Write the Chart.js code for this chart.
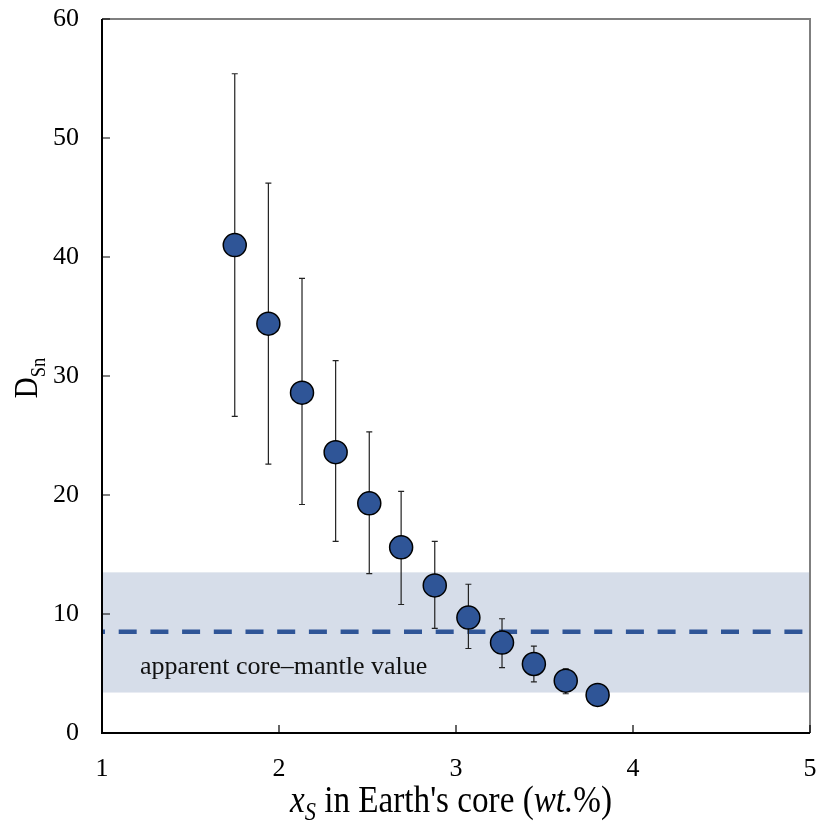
<!DOCTYPE html>
<html>
<head>
<meta charset="utf-8">
<script src="https://cdn.jsdelivr.net/npm/chart.js@4"></script>
<style>
  body { margin: 0; background: #fff; }
</style>
</head>
<body>
<canvas id="chart" width="816" height="826"></canvas>
<script>
// S content of the core (wt.%) and D_Sn with error bar ends
let sulfur = [1.75, 1.94, 2.13, 2.32, 2.51, 2.69, 2.88, 3.07, 3.26, 3.44, 3.62, 3.80];
let dSn = [41.0, 34.4, 28.6, 23.6, 19.3, 15.6, 12.4, 9.7, 7.6, 5.8, 4.4, 3.2];
let dSnHigh = [55.4, 46.2, 38.2, 31.3, 25.3, 20.3, 16.1, 12.5, 9.6, 7.3, 5.4, 3.6];
let dSnLow = [26.6, 22.6, 19.2, 16.1, 13.4, 10.8, 8.8, 7.1, 5.5, 4.3, 3.3, 2.8];

// apparent core-mantle value and its range
let apparentValue = 8.5;
let apparentRange = [3.4, 13.5];

let xTicks = [1, 2, 3, 4, 5];
let yTicks = [0, 10, 20, 30, 40, 50, 60];

const serif = '"Liberation Serif", "Times New Roman", serif';
const blue = '#2f5597';

let points = sulfur.map(function(x, i) {
    return { x: x, y: dSn[i] };
});

// shaded band, dashed line, label and error bars, under the points
const underPlugin = {
    id: 'under',
    beforeDatasetsDraw(chart) {
        const ctx = chart.ctx;
        const xs = chart.scales.x;
        const ys = chart.scales.y;
        const area = chart.chartArea;

        ctx.save();
        ctx.fillStyle = '#d6dde9';
        let top = ys.getPixelForValue(apparentRange[1]);
        let bottom = ys.getPixelForValue(apparentRange[0]);
        ctx.fillRect(area.left, top, area.right - area.left, bottom - top);

        ctx.strokeStyle = blue;
        ctx.lineWidth = 4.5;
        ctx.setLineDash([18, 13.7]);
        ctx.lineDashOffset = 15;
        let yLine = ys.getPixelForValue(apparentValue);
        ctx.beginPath();
        ctx.moveTo(area.left, yLine);
        ctx.lineTo(area.right, yLine);
        ctx.stroke();
        ctx.setLineDash([]);

        ctx.fillStyle = '#111';
        ctx.font = '26px ' + serif;
        ctx.textBaseline = 'alphabetic';
        ctx.fillText('apparent core\u2013mantle value', xs.getPixelForValue(1.215), ys.getPixelForValue(5.0));

        ctx.strokeStyle = '#222';
        ctx.lineWidth = 1.2;
        for (let i = 0; i < sulfur.length; i++) {
            let px = xs.getPixelForValue(sulfur[i]);
            let hi = ys.getPixelForValue(dSnHigh[i]);
            let lo = ys.getPixelForValue(dSnLow[i]);
            ctx.beginPath();
            ctx.moveTo(px, hi);
            ctx.lineTo(px, lo);
            ctx.moveTo(px - 3, hi);
            ctx.lineTo(px + 3, hi);
            ctx.moveTo(px - 3, lo);
            ctx.lineTo(px + 3, lo);
            ctx.stroke();
        }
        ctx.restore();
    }
};

// frame, inward ticks and axis titles
const framePlugin = {
    id: 'frame',
    afterDraw(chart) {
        const ctx = chart.ctx;
        const xs = chart.scales.x;
        const ys = chart.scales.y;
        const a = chart.chartArea;

        ctx.save();
        ctx.strokeStyle = '#7f7f7f';
        ctx.lineWidth = 2;
        ctx.beginPath();
        ctx.moveTo(a.left, a.top);
        ctx.lineTo(a.right, a.top);
        ctx.lineTo(a.right, a.bottom);
        ctx.stroke();

        ctx.strokeStyle = '#000';
        ctx.beginPath();
        ctx.moveTo(a.left, a.top);
        ctx.lineTo(a.left, a.bottom);
        ctx.lineTo(a.right, a.bottom);
        ctx.stroke();

        ctx.lineWidth = 1.2;
        ctx.beginPath();
        xTicks.forEach(function(t) {
            let px = xs.getPixelForValue(t);
            ctx.moveTo(px, a.bottom);
            ctx.lineTo(px, a.bottom - 8);
        });
        yTicks.forEach(function(t) {
            let py = ys.getPixelForValue(t);
            ctx.moveTo(a.left, py);
            ctx.lineTo(a.left + 8, py);
        });
        ctx.stroke();

        // y title: D with subscript Sn (text is slightly condensed)
        ctx.fillStyle = '#000';
        ctx.textBaseline = 'alphabetic';
        ctx.translate(37, 378);
        ctx.rotate(-Math.PI / 2);
        ctx.scale(0.88, 1);
        ctx.font = '33px ' + serif;
        let dW = ctx.measureText('D').width;
        ctx.font = '21px ' + serif;
        let snW = ctx.measureText('Sn').width;
        let start = -(dW + snW) / 2;
        ctx.font = '33px ' + serif;
        ctx.fillText('D', start, 0);
        ctx.font = '21px ' + serif;
        ctx.fillText('Sn', start + dW, 8);
        ctx.setTransform(1, 0, 0, 1, 0, 0);

        // x title: x_S in Earth's core (wt.%)
        let parts = [
            { t: 'x', f: 'italic 37px ' + serif, dy: 0 },
            { t: 'S', f: 'italic 25px ' + serif, dy: 8 },
            { t: ' in Earth\'s core (', f: '37px ' + serif, dy: 0 },
            { t: 'wt.', f: 'italic 37px ' + serif, dy: 0 },
            { t: '%)', f: '37px ' + serif, dy: 0 }
        ];
        let total = 0;
        parts.forEach(function(p) {
            ctx.font = p.f;
            p.w = ctx.measureText(p.t).width;
            total += p.w;
        });
        let squeeze = 322 / total;
        ctx.translate(290, 812);
        ctx.scale(squeeze, 1);
        let x = 0;
        parts.forEach(function(p) {
            ctx.font = p.f;
            ctx.fillText(p.t, x, p.dy);
            x += p.w;
        });
        ctx.restore();
    }
};

new Chart(document.getElementById('chart'), {
    type: 'scatter',
    data: {
        datasets: [{
            label: 'D_Sn',
            data: points,
            backgroundColor: blue,
            borderColor: '#000',
            borderWidth: 1.5,
            pointRadius: 11.5,
            pointHoverRadius: 11.5
        }]
    },
    options: {
        responsive: false,
        animation: false,
        events: [],
        layout: { autoPadding: false, padding: { left: 0, right: 6, top: 19, bottom: 0 } },
        plugins: {
            legend: { display: false },
            tooltip: { enabled: false }
        },
        scales: {
            x: {
                type: 'linear',
                min: 1,
                max: 5,
                afterFit(scale) {
                    scale.height = 93;
                    scale.paddingLeft = 0;
                    scale.paddingRight = 0;
                },
                afterBuildTicks(scale) {
                    scale.ticks = xTicks.map(function(v) { return { value: v }; });
                },
                grid: { display: false, drawTicks: false },
                border: { display: false },
                ticks: {
                    color: '#000',
                    padding: 21,
                    font: { family: serif, size: 26 }
                }
            },
            y: {
                type: 'linear',
                min: 0,
                max: 60,
                afterFit(scale) {
                    scale.width = 102;
                    scale.paddingTop = 0;
                    scale.paddingBottom = 0;
                },
                afterBuildTicks(scale) {
                    scale.ticks = yTicks.map(function(v) { return { value: v }; });
                },
                grid: { display: false, drawTicks: false },
                border: { display: false },
                ticks: {
                    color: '#000',
                    padding: 23,
                    font: { family: serif, size: 26 }
                }
            }
        }
    },
    plugins: [underPlugin, framePlugin]
});
</script>
</body>
</html>
